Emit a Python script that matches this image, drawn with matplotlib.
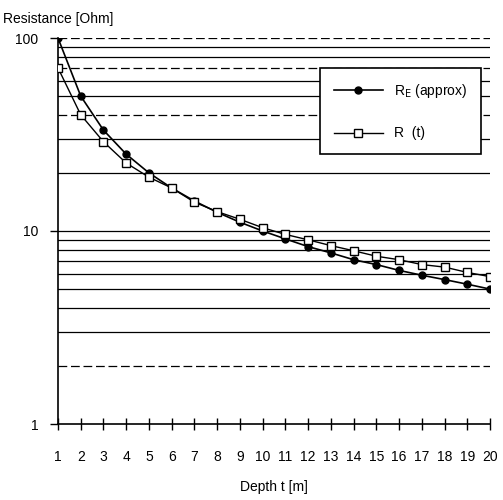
import matplotlib
matplotlib.use("Agg")
import matplotlib.pyplot as plt

# depth t [m]
depth = list(range(1, 21))

# R_E (approx) - filled circles
re_approx = [100, 50, 33.3, 25, 20, 16.7, 14.3, 12.5, 11.1, 10.0,
             9.1, 8.3, 7.7, 7.1, 6.7, 6.25, 5.9, 5.6, 5.3, 5.0]

# R (t) - open squares
r_t = [70, 40, 29, 22.5, 19, 16.7, 14.1, 12.6, 11.5, 10.4,
       9.6, 9.0, 8.4, 7.9, 7.4, 7.1, 6.7, 6.5, 6.1, 5.8]

# horizontal grid levels
grid_levels = [2, 3, 4, 5, 6, 7, 8, 9, 10, 20, 30, 40, 50, 60, 70, 80, 90, 100]
dashed_levels = [2, 40, 70, 100]

plt.rcParams['font.family'] = ['Liberation Sans', 'DejaVu Sans']

fig = plt.figure(figsize=(5.03, 5.0), dpi=100)
ax = fig.add_axes([0.1153, 0.152, 0.859, 0.772])

# grid lines
for lv in grid_levels:
    ls = (0, (7, 3)) if lv in dashed_levels else '-'
    ax.axhline(lv, color='black', lw=0.9, ls=ls, zorder=1)

ax.plot(depth, re_approx, color='black', lw=1.2, marker='o', ms=5,
        mfc='black', mec='black', label=r'R$_\mathrm{E}$ (approx)', zorder=3)
ax.plot(depth, r_t, color='black', lw=1.0, marker='s', ms=5.5,
        mfc='white', mec='black', mew=1.0, label='R  (t)', zorder=3)

ax.set_yscale('log')
ax.set_xlim(1, 20)
ax.set_ylim(1, 100)

ax.set_xticks(depth)
ax.set_xticklabels([str(d) for d in depth])
ax.set_yticks([1, 10, 100])
ax.set_yticklabels(['1', '10', '100'])
ax.minorticks_off()

ax.tick_params(axis='x', direction='inout', length=9, width=1.0, pad=14, labelsize=10)
ax.tick_params(axis='y', direction='out', length=6, width=1.0, pad=8, labelsize=10)

for s in ['top', 'right']:
    ax.spines[s].set_visible(False)
for s in ['left', 'bottom']:
    ax.spines[s].set_linewidth(1.2)

ax.set_xlabel('Depth t [m]', fontsize=10, labelpad=12)
fig.text(0.006, 0.975, 'Resistance [Ohm]', fontsize=10, ha='left', va='top')

leg = ax.legend(loc='upper right', bbox_to_anchor=(0.995, 0.94), fontsize=10,
                frameon=True, fancybox=False, edgecolor='black', framealpha=1,
                handlelength=3.5, labelspacing=1.9, borderpad=1.0)
leg.get_frame().set_linewidth(1.2)

fig.savefig('out.png', dpi=100)
